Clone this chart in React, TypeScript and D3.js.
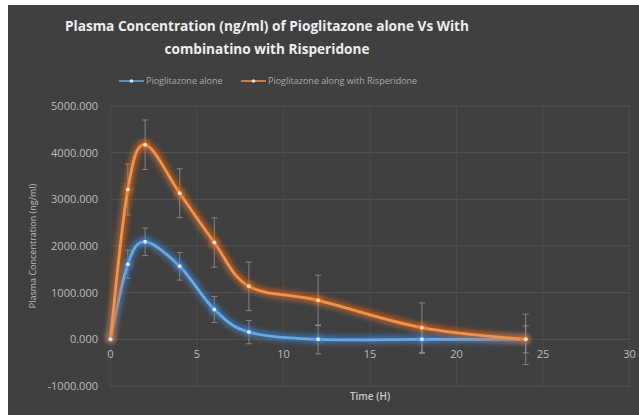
import React from "react";
import * as d3 from "d3";

const timeH = [0, 1, 2, 4, 6, 8, 12, 18, 24];
const pioAlone = [0, 1610, 2090, 1565, 640, 155, 0, 0, 0];
const pioAloneSD = [0, 300, 295, 295, 280, 250, 310, 300, 290];
const pioRisp = [0, 3210, 4170, 3130, 2075, 1135, 835, 250, 0];
const pioRispSD = [0, 545, 530, 525, 530, 520, 540, 530, 540];
const yTicks = [-1000, 0, 1000, 2000, 3000, 4000, 5000];
const xTicks = [0, 5, 10, 15, 20, 25, 30];
const seriesNames = ["Pioglitazone alone", "Pioglitazone along with Risperidone"];
const titleLines = ["Plasma Concentration (ng/ml) of Pioglitazone alone Vs With", "combinatino with Risperidone"];
const titleWidths = [404, 205];

const W = 639, H = 415;
const FONT = "'Open Sans', 'Liberation Sans', sans-serif";

export default function App() {
  const x = d3.scaleLinear().domain([0, 30]).range([110.5, 629.5]);
  const y = d3.scaleLinear().domain([-1000, 5000]).range([386, 106]);
  const line = d3.line<[number, number]>()
    .x(d => x(d[0])).y(d => y(d[1]))
    .curve(d3.curveCardinal.tension(0));
  const series = [
    { name: seriesNames[0], vals: pioAlone, sd: pioAloneSD, color: "#66aae8", glow: "#3f86d0", dot: "#d6e8f8" },
    { name: seriesNames[1], vals: pioRisp, sd: pioRispSD, color: "#f39248", glow: "#e46d1c", dot: "#fcdcc2" },
  ];
  return (
    <svg width={W} height={H} style={{ position: "absolute", left: 0, top: 0 }}>
      <defs>
        <filter id="glow" x="-20%" y="-20%" width="140%" height="140%">
          <feGaussianBlur stdDeviation="2.6" />
        </filter>
      </defs>
      <rect x={0} y={0} width={W} height={H} fill="#ffffff" />
      <rect x={8} y={5} width={W - 8} height={H - 5} fill="#404040" />
      {/* gridlines */}
      {yTicks.map(t => (
        <line key={"gy" + t} x1={x(0)} x2={x(30)} y1={y(t)} y2={y(t)} stroke="#535353" strokeWidth={1} />
      ))}
      {xTicks.map(t => (
        <line key={"gx" + t} x1={x(t)} x2={x(t)} y1={y(5000)} y2={y(-1000)} stroke="#4b4b4b" strokeWidth={1} />
      ))}
      {/* y tick labels */}
      {yTicks.map(t => (
        <text key={"ty" + t} x={98} y={y(t) + 4} textAnchor="end" fontFamily={FONT} fontSize={11} fill="#bdbdbd">
          {d3.format(".3f")(t).replace("−", "-")}
        </text>
      ))}
      {xTicks.map(t => (
        <text key={"tx" + t} x={x(t)} y={y(0) + 19} textAnchor="middle" fontFamily={FONT} fontSize={11} fill="#bdbdbd">
          {t}
        </text>
      ))}
      {/* axis titles */}
      <text x={0} y={0} transform={`translate(36,246) rotate(-90)`} textAnchor="middle" fontFamily={FONT} fontSize={9} fill="#bdbdbd">
        Plasma Concentration (ng/ml)
      </text>
      <text x={370} y={400} textAnchor="middle" fontFamily={FONT} fontSize={10} fontWeight={600} fill="#c8c8c8">
        Time (H)
      </text>
      {/* title */}
      {titleLines.map((l, i) => (
        <text key={"tt" + i} x={267} y={31 + i * 23} textAnchor="middle" fontFamily={FONT} fontSize={14.5} fontWeight={700} fill="#eeeeee"
          textLength={titleWidths[i]} lengthAdjust="spacingAndGlyphs">
          {l}
        </text>
      ))}
      {/* legend */}
      {series.map((s, i) => {
        const lx = i === 0 ? 119 : 241;
        return (
          <g key={"lg" + i}>
            <line x1={lx} x2={lx + 25} y1={81} y2={81} stroke={s.glow} strokeWidth={4} opacity={0.5} filter="url(#glow)" />
            <line x1={lx} x2={lx + 25} y1={81} y2={81} stroke={s.color} strokeWidth={1.5} />
            <circle cx={lx + 12.5} cy={81} r={1.8} fill={s.dot} />
            <text x={lx + 27} y={84} fontFamily={FONT} fontSize={9} fill="#a8a8a8">{s.name}</text>
          </g>
        );
      })}
      {/* error bars */}
      {series.map((s, i) => (
        <g key={"eb" + i} stroke="#a0a0a0" strokeWidth={1} opacity={0.7}>
          {timeH.map((t, j) => s.sd[j] > 0 ? (
            <g key={j}>
              <line x1={x(t)} x2={x(t)} y1={y(s.vals[j] + s.sd[j])} y2={y(s.vals[j] - s.sd[j])} />
              <line x1={x(t) - 3} x2={x(t) + 3} y1={y(s.vals[j] + s.sd[j])} y2={y(s.vals[j] + s.sd[j])} />
              <line x1={x(t) - 3} x2={x(t) + 3} y1={y(s.vals[j] - s.sd[j])} y2={y(s.vals[j] - s.sd[j])} />
            </g>
          ) : null)}
        </g>
      ))}
      {/* series */}
      {series.map((s, i) => {
        const pts = timeH.map((t, j) => [t, s.vals[j]] as [number, number]);
        return (
          <g key={"s" + i}>
            <path d={line(pts) || ""} fill="none" stroke={s.glow} strokeWidth={8.5} opacity={0.6} filter="url(#glow)" />
            <path d={line(pts) || ""} fill="none" stroke={s.color} strokeWidth={2.8} />
            {pts.map((p, j) => (
              <g key={j}>
                <circle cx={x(p[0])} cy={y(p[1])} r={4.5} fill={s.glow} opacity={0.6} filter="url(#glow)" />
                <circle cx={x(p[0])} cy={y(p[1])} r={2} fill={s.dot} />
              </g>
            ))}
          </g>
        );
      })}
    </svg>
  );
}
